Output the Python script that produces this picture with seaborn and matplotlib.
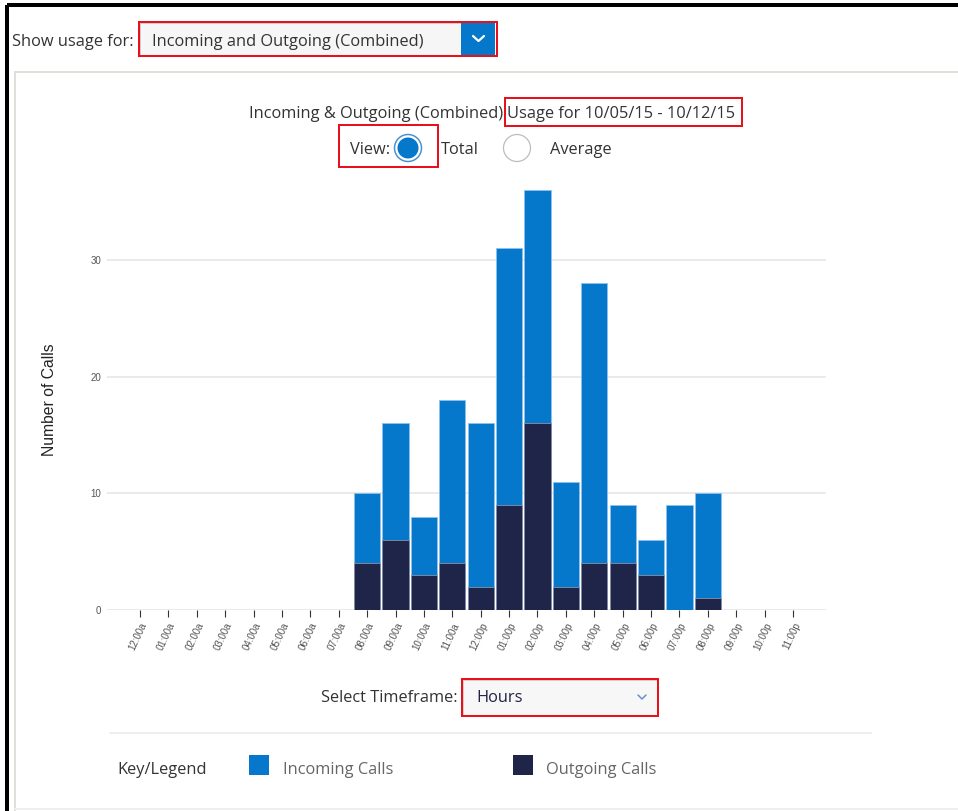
import numpy as np
import pandas as pd
import matplotlib
matplotlib.use("Agg")
import matplotlib.pyplot as plt
import seaborn as sns
from matplotlib.patches import Rectangle, Circle

# datos
hours = ["12:00a", "01:00a", "02:00a", "03:00a", "04:00a", "05:00a", "06:00a", "07:00a",
         "08:00a", "09:00a", "10:00a", "11:00a", "12:00p", "01:00p", "02:00p", "03:00p",
         "04:00p", "05:00p", "06:00p", "07:00p", "08:00p", "09:00p", "10:00p", "11:00p"]
incoming = [0, 0, 0, 0, 0, 0, 0, 0, 6, 10, 5, 14, 14, 22, 20, 9, 24, 5, 3, 9, 9, 0, 0, 0]
outgoing = [0, 0, 0, 0, 0, 0, 0, 0, 4, 6, 3, 4, 2, 9, 16, 2, 4, 4, 3, 0, 1, 0, 0, 0]
legend_labels = ["Incoming Calls", "Outgoing Calls"]

BLUE = "#0678cc"
NAVY = "#1f2548"

df = pd.DataFrame({"hour": hours, "incoming": incoming, "outgoing": outgoing})
df["total"] = df["incoming"] + df["outgoing"]

sns.set_style("white")
plt.rcParams["font.family"] = ["Open Sans", "DejaVu Sans"]

W, H = 958, 811
fig = plt.figure(figsize=(W / 100, H / 100), dpi=100)

# capa de interfaz en pixeles (y hacia abajo)
ui = fig.add_axes([0, 0, 1, 1])
ui.set_xlim(0, W)
ui.set_ylim(H, 0)
ui.axis("off")

def px(v):
    return v * 0.72

# bordes
ui.plot([7, W], [5, 5], color="black", lw=px(4), solid_capstyle="butt")
ui.plot([7, 7], [5, H], color="black", lw=px(4), solid_capstyle="butt")
ui.plot([15, W], [72, 72], color="#e0e0da", lw=px(2))
ui.plot([15, 15], [72, H], color="#e0e0da", lw=px(2))
ui.plot([15, W], [809, 809], color="#eeeeee", lw=px(2))
ui.plot([110, 871], [733, 733], color="#eeeeee", lw=px(2))

txt = "#333333"
fs = 11.8
dy = 1.5  # ajuste vertical del texto

# selector superior
ui.text(12, 40 + dy, "Show usage for:", fontsize=fs, color=txt, va="center", ha="left")
ui.add_patch(Rectangle((140, 23), 322, 32, facecolor="#f6f6f6", edgecolor="#cccccc", lw=px(1)))
ui.add_patch(Rectangle((461, 23), 34, 32, facecolor=BLUE, edgecolor="none"))
ui.plot([473, 478.5, 484], [36, 41, 36], color="white", lw=px(2.2))
ui.text(152, 40 + dy, "Incoming and Outgoing (Combined)", fontsize=fs, color=txt, va="center", ha="left")
ui.add_patch(Rectangle((139, 22), 358, 34, facecolor="none", edgecolor="#e8101a", lw=px(2)))

# titulo
ui.text(503, 112 + dy, "Incoming & Outgoing (Combined)", fontsize=fs, color=txt, va="center", ha="right")
ui.text(507, 112 + dy, "Usage for 10/05/15 - 10/12/15", fontsize=fs, color=txt, va="center", ha="left")
ui.add_patch(Rectangle((505, 98), 237, 28, facecolor="none", edgecolor="#e8101a", lw=px(2)))

# vista
ui.text(350, 148 + dy, "View:", fontsize=fs, color=txt, va="center", ha="left")
ui.add_patch(Circle((408, 148), 13.5, facecolor="white", edgecolor="#4a90d0", lw=px(1.5)))
ui.add_patch(Circle((408, 148), 10.5, facecolor=BLUE, edgecolor="none"))
ui.text(441, 148 + dy, "Total", fontsize=fs, color=txt, va="center", ha="left")
ui.add_patch(Circle((517, 148), 13.5, facecolor="white", edgecolor="#bbbbbb", lw=px(1.2)))
ui.text(550, 148 + dy, "Average", fontsize=fs, color=txt, va="center", ha="left")
ui.add_patch(Rectangle((339, 125), 99, 42, facecolor="none", edgecolor="#e8101a", lw=px(2)))

# periodo
ui.text(458, 697 + dy, "Select Timeframe:", fontsize=fs, color=txt, va="center", ha="right")
ui.add_patch(Rectangle((463, 680), 194, 35, facecolor="#f7f7f7", edgecolor="#d0d0d0", lw=px(1)))
ui.text(476, 697 + dy, "Hours", fontsize=fs, color="#222244", va="center", ha="left")
ui.plot([638, 642, 646], [695, 699, 695], color="#6a8fc8", lw=px(1.5))
ui.add_patch(Rectangle((462, 679), 196, 37, facecolor="none", edgecolor="#e8101a", lw=px(2)))

# leyenda
ui.text(117, 769 + dy, "Key/Legend", fontsize=fs, color="#333333", va="center", ha="left")
ui.add_patch(Rectangle((249, 755), 20, 20, facecolor=BLUE, edgecolor="none"))
ui.text(283, 769 + dy, legend_labels[0], fontsize=fs, color="#666666", va="center", ha="left")
ui.add_patch(Rectangle((513, 755), 20, 20, facecolor=NAVY, edgecolor="none"))
ui.text(546, 769 + dy, legend_labels[1], fontsize=fs, color="#666666", va="center", ha="left")

# grafico de barras
ax = fig.add_axes([107 / W, 1 - 610 / H, (826 - 107) / W, (610 - 190) / H])
ax.set_facecolor("none")
sns.barplot(data=df, x="hour", y="total", color=BLUE, saturation=1, width=0.92,
            edgecolor="#8fc0ec", linewidth=0.6, ax=ax, zorder=3)
sns.barplot(data=df, x="hour", y="outgoing", color=NAVY, saturation=1, width=0.92,
            edgecolor="#8a90a8", linewidth=0.6, ax=ax, zorder=4)
ax.set_xlim(-1.16, 24.16)
ax.set_ylim(0, 36)
ax.set_yticks([0, 10, 20, 30])
ax.grid(axis="y", color="#e8e8e8", lw=1.3, zorder=0)
for s in ax.spines.values():
    s.set_visible(False)
ax.tick_params(axis="y", length=0, labelsize=7, labelcolor="#555555", pad=4)
ax.tick_params(axis="x", length=5, width=0.8, color="#333333", labelsize=7,
               labelcolor="#555555", pad=3, bottom=True)
ax.set_xticks(range(len(hours)))
ax.set_xticklabels(hours, rotation=65, ha="right", va="top", rotation_mode="anchor")
for lab in ax.get_yticklabels() + ax.get_xticklabels():
    lab.set_family(["Liberation Sans", "DejaVu Sans"])
ax.set_xlabel("")
ax.set_ylabel("Number of Calls", fontsize=11.3, color="#222222", family=["Liberation Sans", "DejaVu Sans"])
ax.yaxis.set_label_coords(-0.07, 0.5)

fig.savefig("out.png", dpi=100)
